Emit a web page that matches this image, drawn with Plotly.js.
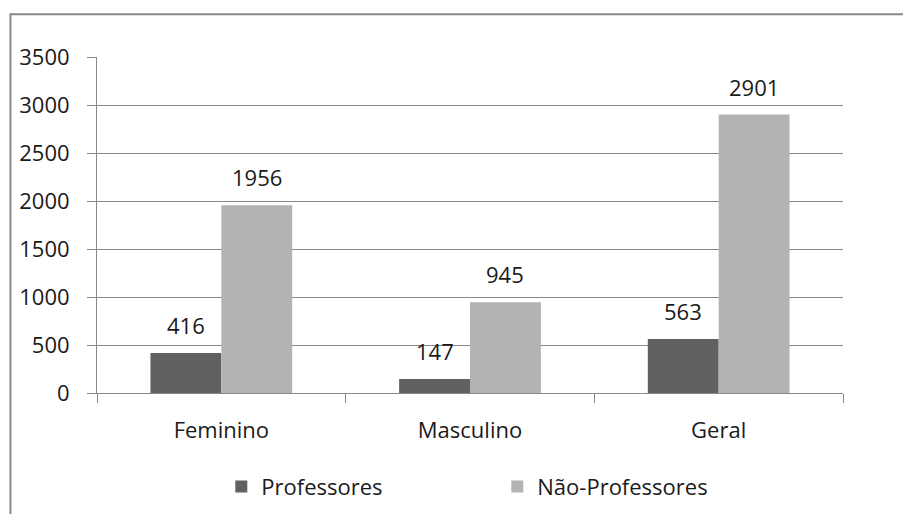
<!DOCTYPE html>
<html>
<head>
<meta charset="utf-8">
<script src="https://cdn.plot.ly/plotly-3.0.1.min.js"></script>
<style>html,body{margin:0;padding:0;background:#fff;}#chart{width:903px;height:514px;}</style>
</head>
<body>
<div id="chart"></div>
<script>
var categories = ["Feminino", "Masculino", "Geral"];
var professores = [416, 147, 563];
var naoProfessores = [1956, 945, 2901];
var seriesNames = ["Professores", "Não-Professores"];
var yTicks = [0, 500, 1000, 1500, 2000, 2500, 3000, 3500];

var fontFam = "Open Sans, Noto Sans, sans-serif";
var txtColor = "#1a1a1a";
var fs = 22;

var traces = [
  {
    type: "bar", name: seriesNames[0], x: categories, y: professores,
    marker: {color: "#616161"}, hoverinfo: "none"
  },
  {
    type: "bar", name: seriesNames[1], x: categories, y: naoProfessores,
    marker: {color: "#b3b3b3"}, hoverinfo: "none"
  }
];

// value labels above bars (positioned via axis scales, shifted to each bar of the group)
var annotations = [];
var seriesVals = [professores, naoProfessores];
var shifts = [-35.4, 35.4];
seriesVals.forEach(function (vals, s) {
  vals.forEach(function (v, i) {
    annotations.push({
      x: categories[i], y: v, xref: "x", yref: "y", text: String(v),
      showarrow: false, xshift: shifts[s], yshift: 28, yanchor: "middle",
      font: {family: fontFam, size: fs, color: txtColor}
    });
  });
});

var layout = {
  width: 903, height: 514,
  margin: {l: 97, r: 60, t: 57, b: 121, autoexpand: false},
  paper_bgcolor: "#fff", plot_bgcolor: "#fff",
  font: {family: fontFam, size: fs, color: txtColor},
  barmode: "group", bargap: 0.43, bargroupgap: 0,
  showlegend: true,
  legend: {orientation: "h", x: 0.5366, xanchor: "center", y: -0.279, yanchor: "middle",
           font: {family: fontFam, size: fs, color: txtColor}, entrywidth: 231, traceorder: "normal"},
  xaxis: {
    automargin: false,
    showline: true, linecolor: "#888", linewidth: 1,
    ticks: "outside", tickson: "boundaries", ticklen: 9, tickcolor: "#888",
    ticklabelstandoff: 18,
    tickfont: {family: fontFam, size: fs, color: txtColor},
    showgrid: false, fixedrange: true
  },
  yaxis: {
    automargin: false,
    range: [0, 3500], tickvals: yTicks, ticktext: yTicks.map(String),
    showline: true, linecolor: "#888", linewidth: 1,
    ticks: "outside", ticklen: 9, tickcolor: "#888",
    ticklabelstandoff: 13,
    showgrid: true, gridcolor: "#888", gridwidth: 1,
    zeroline: false,
    tickfont: {family: fontFam, size: fs, color: txtColor},
    fixedrange: true
  },
  annotations: annotations,
  shapes: [
    {type: "rect", xref: "paper", yref: "paper", x0: -0.116, x1: 2, y0: -2, y1: 1.127,
     line: {color: "#888", width: 2}, fillcolor: "rgba(0,0,0,0)"}
  ]
};

Plotly.newPlot("chart", traces, layout, {displayModeBar: false, staticPlot: true});
</script>
</body>
</html>
